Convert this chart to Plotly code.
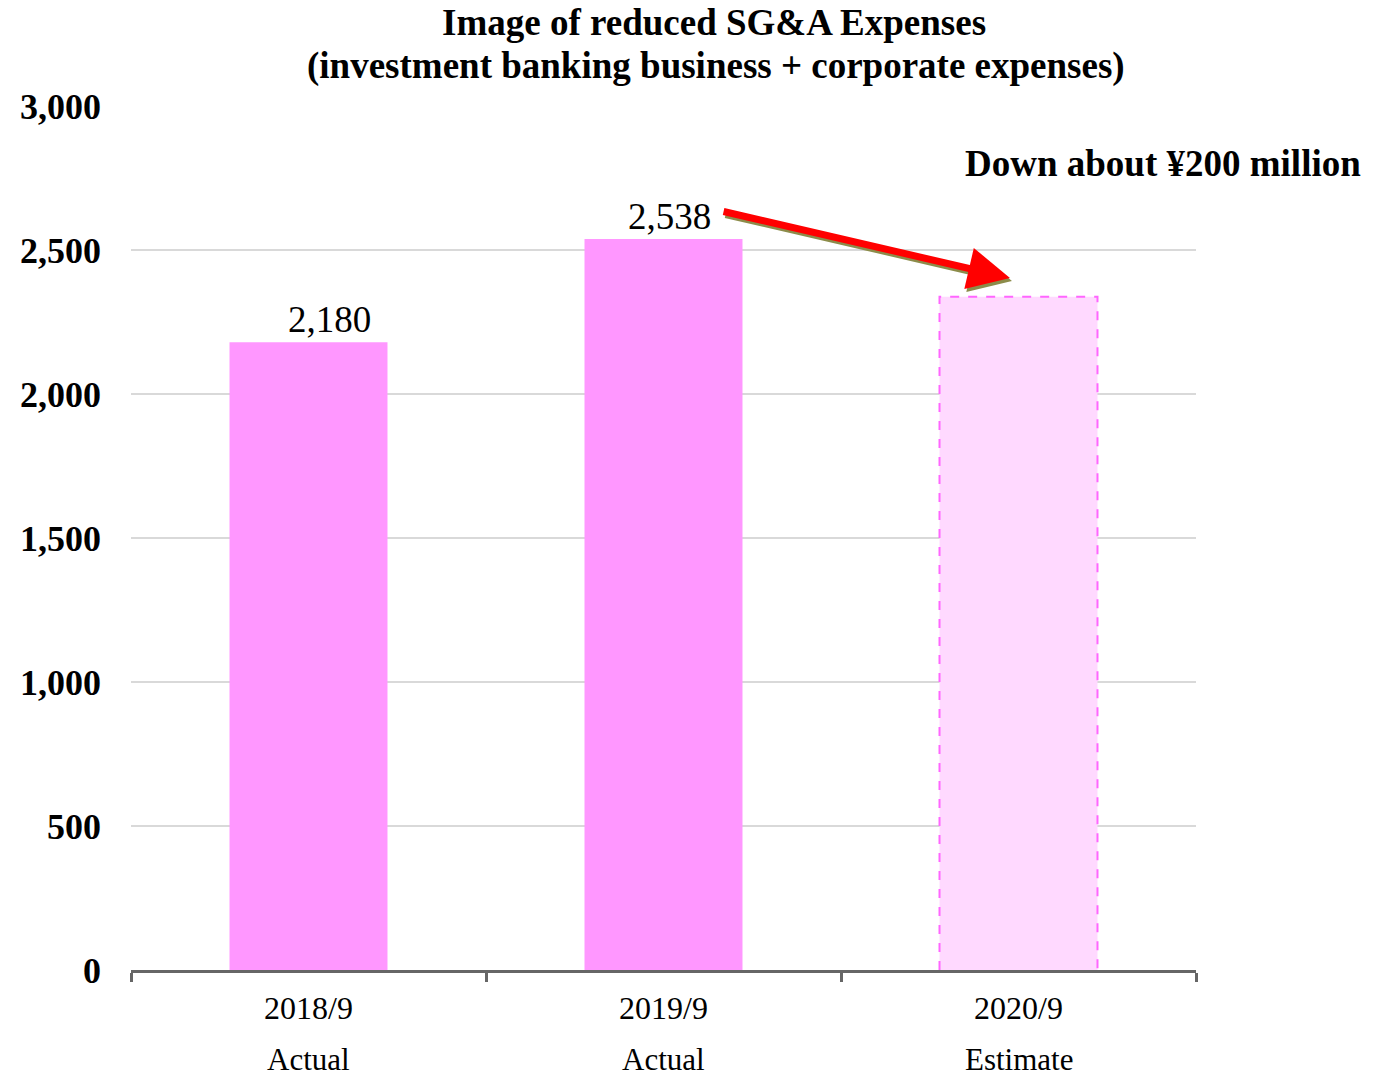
import plotly.graph_objects as go

# ---- data ----
periods = ["2018/9", "2019/9", "2020/9"]
kinds = ["Actual", "Actual", "Estimate"]
values = [2180, 2538, 2338]
value_labels = ["2,180", "2,538", ""]
y_ticks = [0, 500, 1000, 1500, 2000, 2500, 3000]
title_lines = ["Image of reduced SG&A Expenses", "(investment banking business + corporate expenses)"]
note_text = "Down about ¥200 million"

# ---- style ----
FONT = "Liberation Serif, Times New Roman, serif"
BAR_W = 0.445
ACT_COLOR = "#FF97FF"
EST_FILL = "#FFD9FF"
EST_LINE = "#FF66FF"
LABEL_XSHIFT = [21, 6, 0]

xs = list(range(len(periods)))

fig = go.Figure()
fills = [ACT_COLOR if k == "Actual" else EST_FILL for k in kinds]
fig.add_trace(go.Bar(x=xs, y=values, width=BAR_W, marker=dict(color=fills, line=dict(width=0)),
                     hoverinfo="skip", showlegend=False))

# dashed outline for estimate bar(s)
for i, k in enumerate(kinds):
    if k != "Actual":
        fig.add_trace(go.Scatter(
            x=[i - BAR_W / 2, i - BAR_W / 2, i + BAR_W / 2, i + BAR_W / 2],
            y=[0, values[i], values[i], 0],
            mode="lines", line=dict(color=EST_LINE, width=2, dash="dash"),
            hoverinfo="skip", showlegend=False))

annotations = []
# title lines
for line, (tx, ty) in zip(title_lines, [(0.547, 1.097), (0.549, 1.046)]):
    annotations.append(dict(x=tx, y=ty, xref="paper", yref="paper", text=line, showarrow=False,
                            xanchor="center", yanchor="middle",
                            font=dict(family=FONT, size=37, color="black", weight="bold")))
# data labels
for i, lab in enumerate(value_labels):
    if lab:
        annotations.append(dict(x=i, y=values[i], xref="x", yref="y", text=lab, showarrow=False,
                                yanchor="bottom", xshift=LABEL_XSHIFT[i], yshift=0,
                                font=dict(family=FONT, size=37, color="black")))
# category labels (two rows)
for i, (p, k) in enumerate(zip(periods, kinds)):
    annotations.append(dict(x=i, y=-0.044, xref="x", yref="paper", text=p, showarrow=False,
                            yanchor="middle", font=dict(family=FONT, size=32, color="black")))
    annotations.append(dict(x=i, y=-0.104, xref="x", yref="paper", text=k, showarrow=False,
                            yanchor="middle", font=dict(family=FONT, size=31, color="black")))

# arrow (shadow + main)
arrow_tail = (1 + 0.165, 2635)
arrow_head = (2 - 0.024, 2403)
for color, xs_, ys_ in [("#8C8C4A", 2, -3), ("#FF0000", 0, 0)]:
    annotations.append(dict(x=arrow_head[0], y=arrow_head[1], ax=arrow_tail[0], ay=arrow_tail[1],
                            xref="x", yref="y", axref="x", ayref="y", text="", showarrow=True,
                            arrowhead=2, arrowsize=1.2, arrowwidth=7, arrowcolor=color,
                            xshift=xs_, yshift=ys_, standoff=0, startstandoff=0))

annotations.append(dict(x=0.969, y=0.934, xref="paper", yref="paper", text=note_text, showarrow=False,
                        xanchor="center", yanchor="middle",
                        font=dict(family=FONT, size=37, color="black", weight="bold")))

fig.update_layout(
    width=1383, height=1080,
    margin=dict(l=131, r=187, t=106, b=110),
    paper_bgcolor="white", plot_bgcolor="white",
    annotations=annotations,
    xaxis=dict(range=[-0.5, 2.5], tickvals=[-0.5, 0.5, 1.5, 2.5], ticktext=["", "", "", ""],
               showgrid=False, zeroline=False, showline=True, linecolor="#666666", linewidth=3,
               ticks="outside", ticklen=9, tickwidth=3, tickcolor="#666666", fixedrange=True),
    yaxis=dict(range=[0, 3000], tickvals=y_ticks, tickformat=",", showgrid=True, gridcolor="#D9D9D9",
               gridwidth=1.5, zeroline=False, showline=False, ticks="", ticklabelstandoff=29,
               tickfont=dict(family=FONT, size=36, color="black", weight="bold"), fixedrange=True),
    bargap=0.555,
)

fig.write_html("out.html")
